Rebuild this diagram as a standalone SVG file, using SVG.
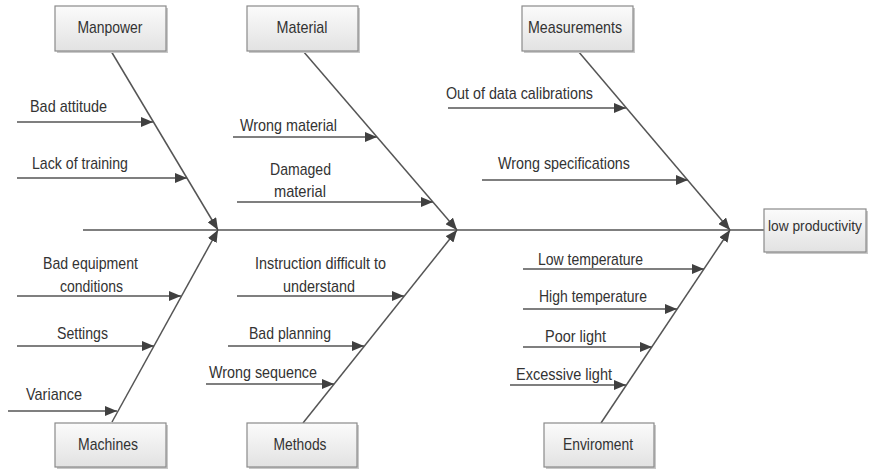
<svg xmlns="http://www.w3.org/2000/svg" width="869" height="470" viewBox="0 0 869 470">
<style>
.box{fill:url(#bg);stroke:#8a8a8a;stroke-width:1.2}
.sh{fill:#c8c8c8}
.t{font-family:"Liberation Sans",Arial,sans-serif;font-size:17px;fill:#333}
.c{text-anchor:middle}
.ln{stroke:#555;stroke-width:1.5;fill:none}
.ar{marker-end:url(#ah)}
</style>
<defs>
<linearGradient id="bg" x1="0" y1="0" x2="0" y2="1">
<stop offset="0" stop-color="#fbfbfb"/>
<stop offset="1" stop-color="#e2e2e2"/>
</linearGradient>
<marker id="ah" markerUnits="userSpaceOnUse" markerWidth="12" markerHeight="10" refX="12" refY="5" orient="auto">
<path d="M0,0 L12,5 L0,10 z" fill="#404040"/>
</marker>
</defs>

<g id="connectors">
<line class="ln" x1="83" y1="230" x2="764" y2="230"/>
<line class="ln ar" x1="111" y1="51" x2="218" y2="230"/>
<line class="ln ar" x1="303" y1="51" x2="457" y2="230"/>
<line class="ln ar" x1="578" y1="51" x2="730" y2="230"/>
<line class="ln ar" x1="112" y1="422" x2="218" y2="230"/>
<line class="ln ar" x1="303" y1="423" x2="457" y2="230"/>
<line class="ln ar" x1="601" y1="423" x2="730" y2="230"/>
<line class="ln ar" x1="17" y1="122" x2="153" y2="122"/>
<line class="ln ar" x1="17" y1="178" x2="187" y2="178"/>
<line class="ln ar" x1="233" y1="137" x2="377" y2="137"/>
<line class="ln ar" x1="237" y1="202" x2="433" y2="202"/>
<line class="ln ar" x1="448" y1="108" x2="626" y2="108"/>
<line class="ln ar" x1="482" y1="180" x2="688" y2="180"/>
<line class="ln ar" x1="17" y1="296" x2="181" y2="296"/>
<line class="ln ar" x1="17" y1="346" x2="154" y2="346"/>
<line class="ln ar" x1="8" y1="411" x2="117" y2="411"/>
<line class="ln ar" x1="237" y1="296" x2="404" y2="296"/>
<line class="ln ar" x1="228" y1="346" x2="364" y2="346"/>
<line class="ln ar" x1="206" y1="384" x2="334" y2="384"/>
<line class="ln ar" x1="523" y1="269" x2="704" y2="269"/>
<line class="ln ar" x1="523" y1="309" x2="677" y2="309"/>
<line class="ln ar" x1="523" y1="347" x2="652" y2="347"/>
<line class="ln ar" x1="510" y1="385" x2="626" y2="385"/>
</g>

<g id="manpower">
<rect class="sh" x="57" y="8" width="111" height="45"/>
<rect class="box" x="55" y="6" width="111" height="45"/>
<text class="t c" x="110" y="33" textLength="65" lengthAdjust="spacingAndGlyphs">Manpower</text>
</g>
<g id="material">
<rect class="sh" x="249" y="8" width="111" height="45"/>
<rect class="box" x="247" y="6" width="111" height="45"/>
<text class="t c" x="302" y="33" textLength="51" lengthAdjust="spacingAndGlyphs">Material</text>
</g>
<g id="measurements">
<rect class="sh" x="524" y="8" width="111" height="45"/>
<rect class="box" x="522" y="6" width="111" height="45"/>
<text class="t c" x="575" y="33" textLength="94" lengthAdjust="spacingAndGlyphs">Measurements</text>
</g>
<g id="effect">
<rect class="sh" x="766" y="211" width="102" height="43"/>
<rect class="box" x="764" y="209" width="102" height="43"/>
<text class="t c" x="815" y="231" style="font-size:14px" textLength="94" lengthAdjust="spacingAndGlyphs">low productivity</text>
</g>
<g id="machines">
<rect class="sh" x="57" y="425" width="111" height="44"/>
<rect class="box" x="55" y="423" width="111" height="44"/>
<text class="t c" x="108" y="450" textLength="60" lengthAdjust="spacingAndGlyphs">Machines</text>
</g>
<g id="methods">
<rect class="sh" x="249" y="425" width="110" height="44"/>
<rect class="box" x="247" y="423" width="110" height="44"/>
<text class="t c" x="300" y="450" textLength="53" lengthAdjust="spacingAndGlyphs">Methods</text>
</g>
<g id="enviroment">
<rect class="sh" x="546" y="425" width="110" height="44"/>
<rect class="box" x="544" y="423" width="110" height="44"/>
<text class="t c" x="598" y="450" textLength="70" lengthAdjust="spacingAndGlyphs">Enviroment</text>
</g>

<g id="cause-labels">
<text class="t" x="30" y="112" textLength="77" lengthAdjust="spacingAndGlyphs">Bad attitude</text>
<text class="t" x="32" y="169" textLength="96" lengthAdjust="spacingAndGlyphs">Lack of training</text>
<text class="t" x="240" y="131" textLength="97" lengthAdjust="spacingAndGlyphs">Wrong material</text>
<text class="t" x="270" y="175" textLength="61" lengthAdjust="spacingAndGlyphs">Damaged</text>
<text class="t" x="274" y="197" textLength="52" lengthAdjust="spacingAndGlyphs">material</text>
<text class="t" x="446" y="99" textLength="147" lengthAdjust="spacingAndGlyphs">Out of data calibrations</text>
<text class="t" x="498" y="169" textLength="132" lengthAdjust="spacingAndGlyphs">Wrong specifications</text>
<text class="t" x="43" y="269" textLength="95" lengthAdjust="spacingAndGlyphs">Bad equipment</text>
<text class="t" x="60" y="292" textLength="63" lengthAdjust="spacingAndGlyphs">conditions</text>
<text class="t" x="57" y="339" textLength="51" lengthAdjust="spacingAndGlyphs">Settings</text>
<text class="t" x="26" y="400" textLength="56" lengthAdjust="spacingAndGlyphs">Variance</text>
<text class="t" x="255" y="269" textLength="131" lengthAdjust="spacingAndGlyphs">Instruction difficult to</text>
<text class="t" x="283" y="292" textLength="72" lengthAdjust="spacingAndGlyphs">understand</text>
<text class="t" x="249" y="339" textLength="82" lengthAdjust="spacingAndGlyphs">Bad planning</text>
<text class="t" x="209" y="378" textLength="108" lengthAdjust="spacingAndGlyphs">Wrong sequence</text>
<text class="t" x="538" y="265" textLength="105" lengthAdjust="spacingAndGlyphs">Low temperature</text>
<text class="t" x="539" y="302" textLength="108" lengthAdjust="spacingAndGlyphs">High temperature</text>
<text class="t" x="545" y="342" textLength="61" lengthAdjust="spacingAndGlyphs">Poor light</text>
<text class="t" x="516" y="380" textLength="96" lengthAdjust="spacingAndGlyphs">Excessive light</text>
</g>
</svg>
